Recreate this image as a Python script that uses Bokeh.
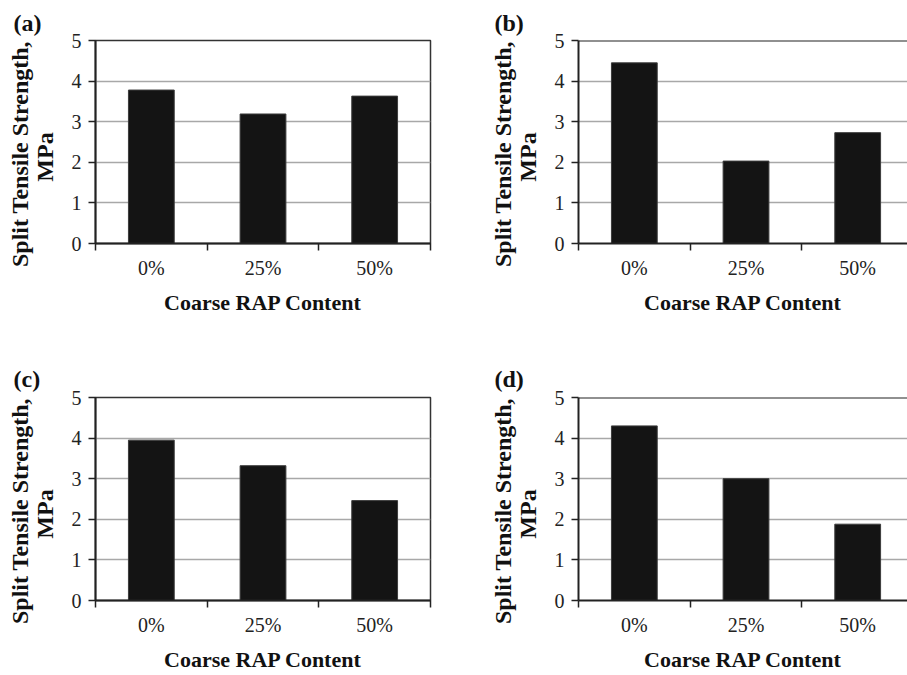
from bokeh.plotting import figure
from bokeh.models import Range1d, FixedTicker, Span
from bokeh.layouts import column, row
from bokeh.embed import file_html
from bokeh.resources import INLINE

categories = ["0%", "25%", "50%"]
vals_a = [3.78, 3.19, 3.63]
vals_b = [4.45, 2.03, 2.73]
vals_c = [3.95, 3.32, 2.46]
vals_d = [4.30, 3.00, 1.88]
y_ticks = [0, 1, 2, 3, 4, 5]
x_title = "Coarse RAP Content"
NB = "\u00a0"
y_title = "Split Tensile Strength," + NB * 4 + "\nMPa" + NB * 5

SERIF = "Liberation Serif"


def panel(vals, letter, width, height, bt, bb, bl, br, x_end, outline,
          loff, lstand):
    n = len(categories)
    centers = [i + 0.5 for i in range(n)]
    p = figure(width=width, height=height,
               x_range=Range1d(0, x_end), y_range=Range1d(0, 5),
               output_backend="svg", toolbar_location=None,
               min_border_top=bt, min_border_bottom=bb,
               min_border_left=bl, min_border_right=br,
               background_fill_color="white", border_fill_color="white")
    p.vbar(x=centers, top=vals, width=0.41, bottom=0,
           fill_color="#141414", line_color="#3c3c3c", line_width=1)

    p.title.text = letter
    p.title.align = "left"
    p.title.offset = loff
    p.title.standoff = lstand
    p.title.text_font = SERIF
    p.title.text_font_style = "bold"
    p.title.text_font_size = "24px"
    p.title.text_color = "#111111"

    xa = p.xaxis[0]
    xa.ticker = FixedTicker(ticks=centers, minor_ticks=list(range(n + 1)))
    xa.major_label_overrides = {c: lab for c, lab in zip(centers, categories)}
    xa.major_tick_out = 0
    xa.major_tick_in = 0
    xa.minor_tick_out = 7
    xa.minor_tick_in = 0
    xa.minor_tick_line_color = "#222222"
    xa.minor_tick_line_width = 1.5
    xa.axis_line_color = "#222222"
    xa.axis_line_width = 2
    xa.major_label_standoff = 6
    xa.major_label_text_font = SERIF
    xa.major_label_text_font_size = "20px"
    xa.major_label_text_color = "#222222"
    xa.axis_label = x_title
    xa.axis_label_standoff = 8
    xa.axis_label_text_font = SERIF
    xa.axis_label_text_font_style = "bold"
    xa.axis_label_text_font_size = "22px"
    xa.axis_label_text_color = "#111111"

    ya = p.yaxis[0]
    ya.ticker = FixedTicker(ticks=y_ticks, minor_ticks=[])
    ya.major_tick_out = 7
    ya.major_tick_in = 0
    ya.major_tick_line_color = "#222222"
    ya.major_tick_line_width = 1.5
    ya.axis_line_color = "#222222"
    ya.axis_line_width = 2
    ya.major_label_standoff = 7
    ya.major_label_text_font = SERIF
    ya.major_label_text_font_size = "20px"
    ya.major_label_text_color = "#222222"
    ya.axis_label = y_title
    ya.axis_label_standoff = 11
    ya.axis_label_text_font = SERIF
    ya.axis_label_text_font_style = "bold"
    ya.axis_label_text_font_size = "24px"
    ya.axis_label_text_line_height = 0.95
    ya.axis_label_text_color = "#111111"

    p.xgrid.visible = False
    p.ygrid.ticker = FixedTicker(ticks=y_ticks[1:])
    p.ygrid.grid_line_color = "#a8a8a8"
    p.ygrid.grid_line_width = 1.6

    if outline:
        p.outline_line_color = "#333333"
        p.outline_line_width = 1.5
    else:
        p.outline_line_color = None
        p.add_layout(Span(location=5, dimension="width",
                          line_color="#222222", line_width=2))
    return p


pa = panel(vals_a, "(a)", 483, 350, 40, 107, 95, 53, 3, True, -82, 10)
pb = panel(vals_b, "(b)", 424, 350, 40, 107, 95, 0, 2.946, False, -84, 10)
pc = panel(vals_c, "(c)", 483, 325, 47, 75, 95, 53, 3, True, -82, 12)
pd = panel(vals_d, "(d)", 424, 325, 47, 75, 95, 0, 2.946, False, -84, 12)

layout = column(row(pa, pb, spacing=0), row(pc, pd, spacing=0), spacing=0)

open("out.html", "w").write(file_html(layout, INLINE))
